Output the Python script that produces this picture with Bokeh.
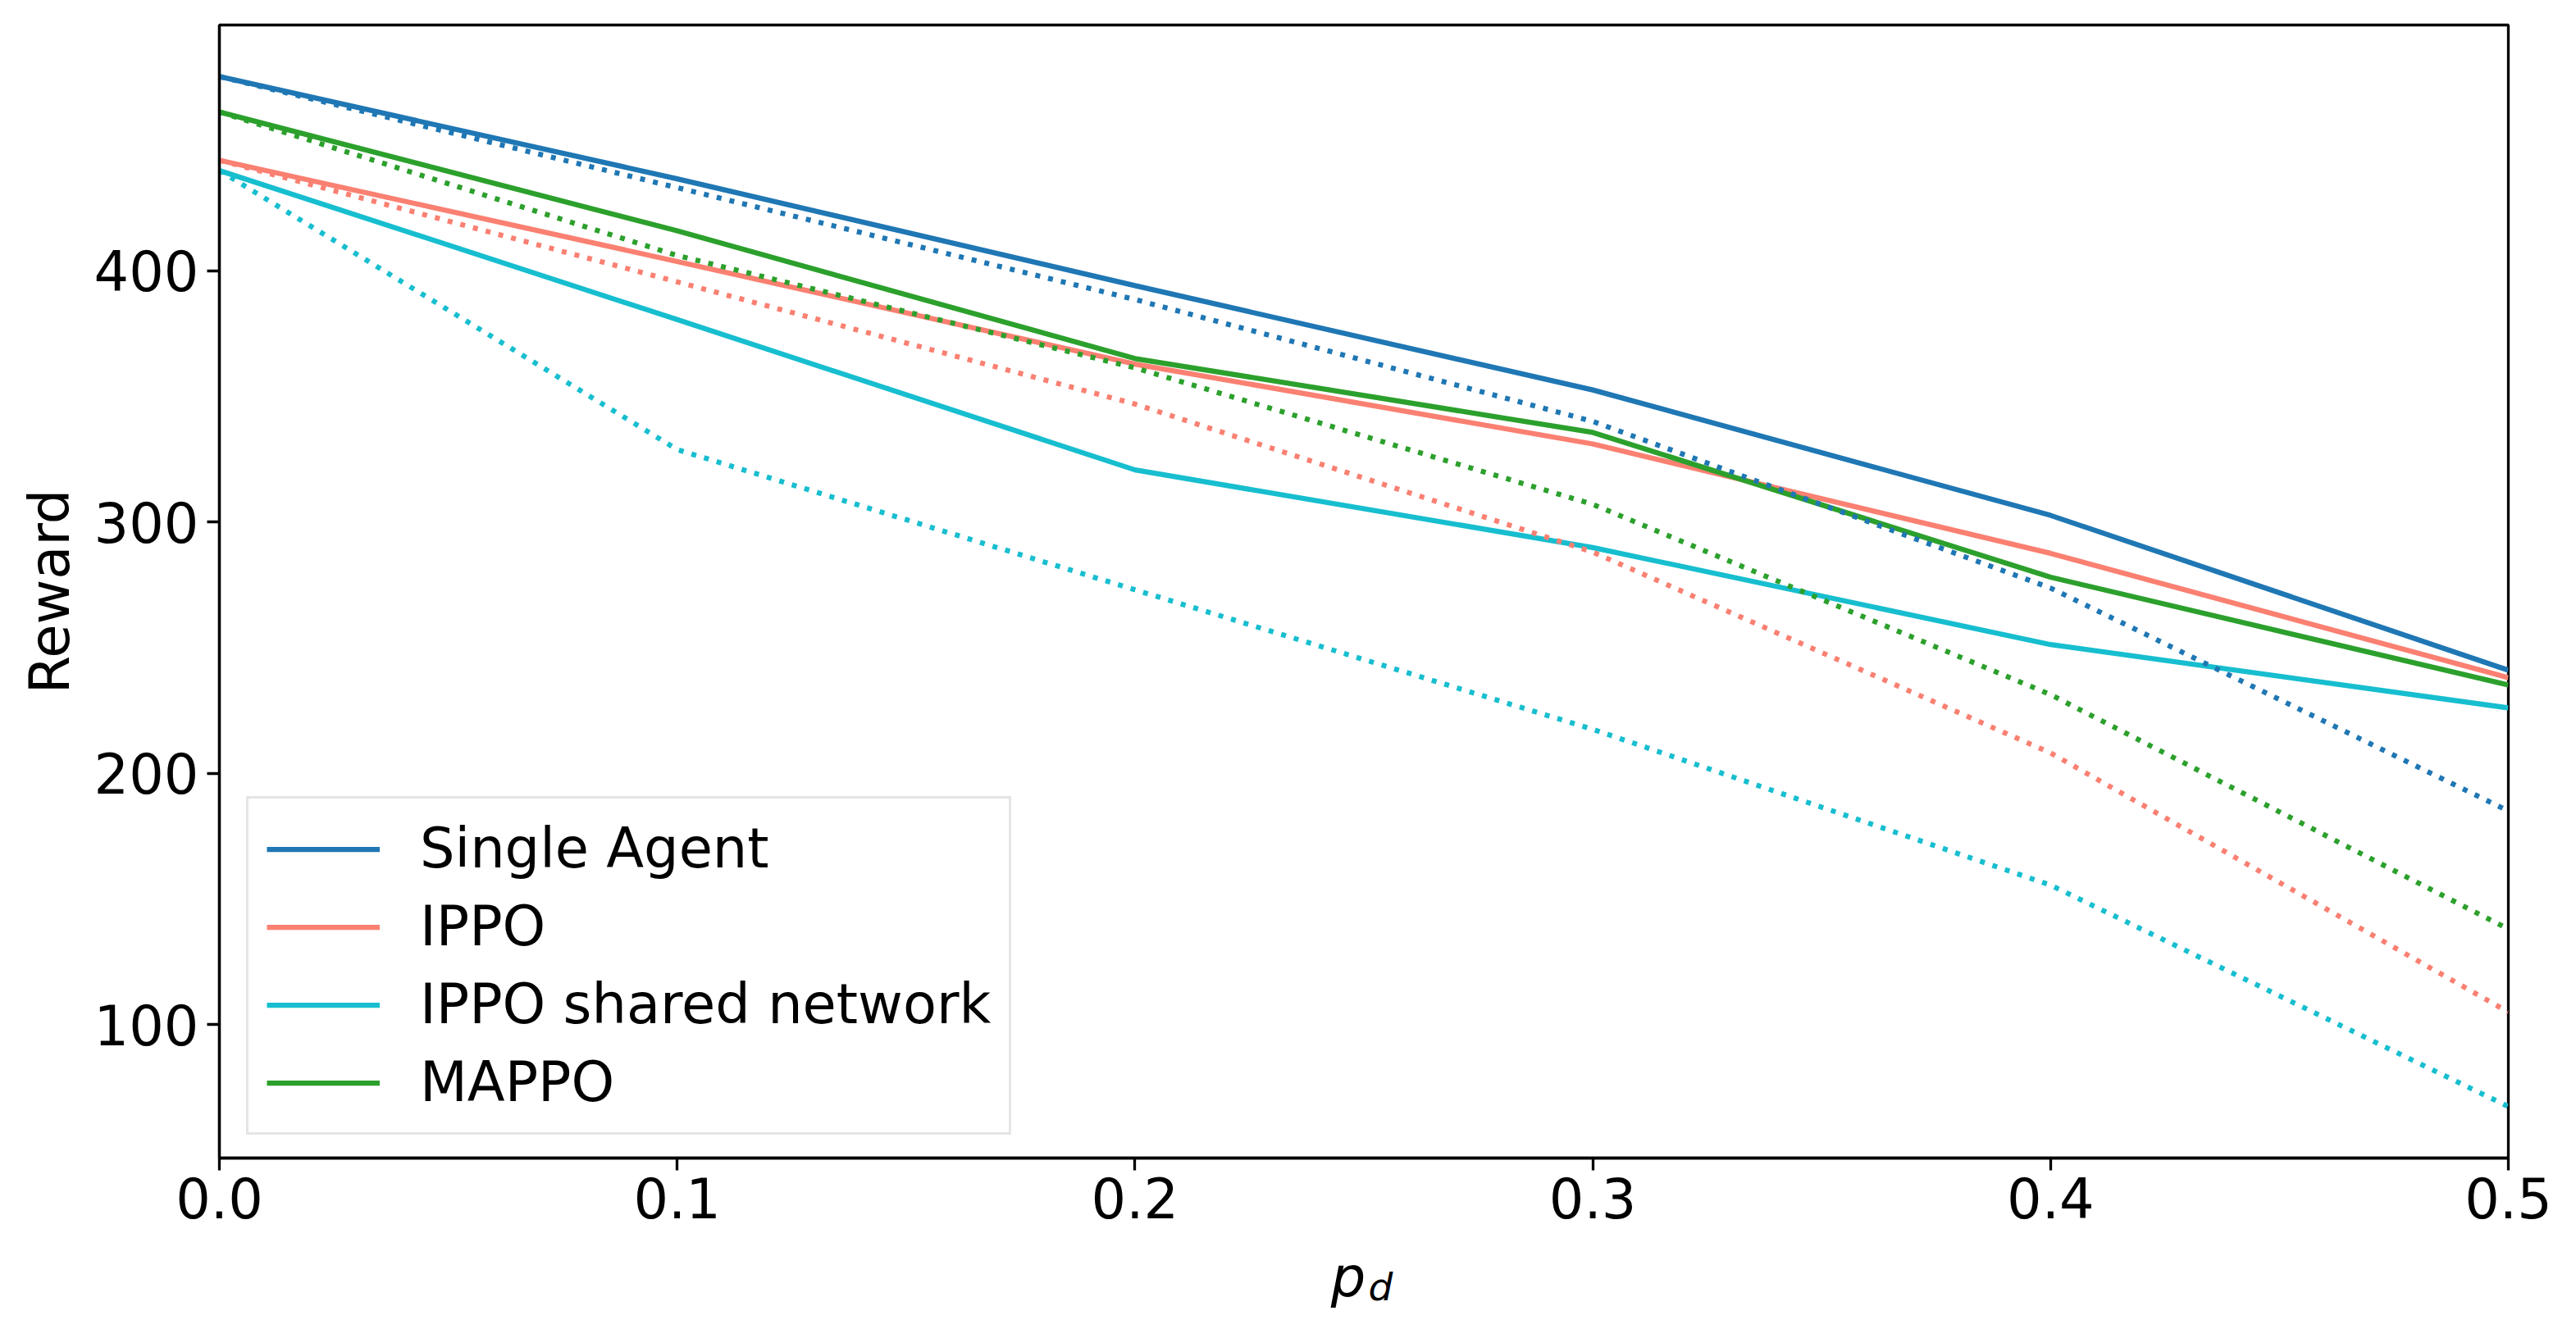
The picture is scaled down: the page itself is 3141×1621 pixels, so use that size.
from bokeh.plotting import figure
from bokeh.models import FixedTicker, Range1d, Label
from bokeh.embed import file_html
from bokeh.resources import INLINE

# ---- data ----
p_d = [0.0, 0.1, 0.2, 0.3, 0.4, 0.5]

single_agent = [477.2, 436.5, 394.0, 352.5, 302.6, 241.0]
single_agent_dotted = [477.2, 433.0, 388.5, 340.0, 273.7, 185.0]

ippo = [443.9, 403.6, 362.8, 331.0, 287.5, 238.0]
ippo_dotted = [443.9, 395.5, 346.9, 288.0, 208.1, 105.0]

ippo_shared = [439.8, 380.5, 320.7, 289.8, 251.2, 226.0]
ippo_shared_dotted = [439.8, 328.8, 273.0, 217.5, 155.5, 67.4]

mappo = [463.1, 415.8, 365.0, 335.6, 278.0, 235.1]
mappo_dotted = [463.1, 406.0, 361.3, 307.0, 231.3, 138.0]

series_names = ["Single Agent", "IPPO", "IPPO shared network", "MAPPO"]
series_colors = ["#1f77b4", "#fa8072", "#17becf", "#2ca02c"]
solid_series = [single_agent, ippo, ippo_shared, mappo]
dotted_series = [single_agent_dotted, ippo_dotted, ippo_shared_dotted, mappo_dotted]

x_ticks = [0.0, 0.1, 0.2, 0.3, 0.4, 0.5]
x_tick_labels = ["0.0", "0.1", "0.2", "0.3", "0.4", "0.5"]
y_ticks = [100, 200, 300, 400]
y_tick_labels = ["100", "200", "300", "400"]

FONT = "DejaVu Sans"
FS = "67px"

p = figure(width=3131, height=1605, output_backend="svg", toolbar_location=None,
           x_range=Range1d(0.0, 0.5), y_range=Range1d(46.9, 497.7))
p.min_border_left = 267
p.min_border_right = 73
p.min_border_top = 30
p.min_border_bottom = 193
p.background_fill_color = "white"
p.border_fill_color = "white"
p.outline_line_color = "black"
p.outline_line_width = 3.3
p.xgrid.visible = False
p.ygrid.visible = False

for name, color, ys in zip(series_names, series_colors, solid_series):
    p.line(p_d, ys, line_color=color, line_width=6.25, legend_label=name)
for color, ys in zip(series_colors, dotted_series):
    p.line(p_d, ys, line_color=color, line_width=6.25, line_dash="6 10", line_cap="butt")

# axes
for ax in (p.xaxis[0], p.yaxis[0]):
    ax.axis_line_width = 3.3
    ax.major_tick_line_width = 3.3
    ax.major_tick_out = 15
    ax.major_tick_in = 0
    ax.minor_tick_line_color = None
    ax.major_label_text_font = FONT
    ax.major_label_text_font_size = FS
    ax.major_label_text_color = "black"
    ax.axis_label_text_font = FONT
    ax.axis_label_text_font_size = FS
    ax.axis_label_text_font_style = "normal"
    ax.axis_label_text_color = "black"

p.xaxis.ticker = FixedTicker(ticks=x_ticks)
p.xaxis.major_label_overrides = {t: l for t, l in zip(x_ticks, x_tick_labels)}
p.xaxis.major_label_standoff = 8
p.yaxis.ticker = FixedTicker(ticks=y_ticks)
p.yaxis.major_label_overrides = {t: l for t, l in zip(y_ticks, y_tick_labels)}
p.yaxis.major_label_standoff = 10
p.yaxis.axis_label = "Reward"
p.yaxis.axis_label_standoff = 12

# x axis label p_d (italic p with subscript d); kept in a side panel so it is not clipped
p.add_layout(Label(x=0.2428, y=-0.5, text="p", text_font=FONT, text_font_size=FS,
                   text_font_style="italic", text_align="left", text_baseline="alphabetic",
                   text_color="black"), "right")
p.add_layout(Label(x=0.2510, y=-4.4, text="d", text_font=FONT, text_font_size="47px",
                   text_font_style="italic", text_align="left", text_baseline="alphabetic",
                   text_color="black"), "right")

# legend
lg = p.legend[0]
lg.location = (33, 28)
lg.margin = 0
lg.padding = 22
lg.spacing = 17
lg.label_height = 69
lg.glyph_height = 69
lg.glyph_width = 138
lg.label_standoff = 49
lg.label_text_font = FONT
lg.label_text_font_size = FS
lg.label_text_color = "black"
lg.border_line_color = "#cccccc"
lg.border_line_width = 3
lg.background_fill_color = "white"
lg.background_fill_alpha = 0.8

open("out.html", "w").write(file_html(p, INLINE))
